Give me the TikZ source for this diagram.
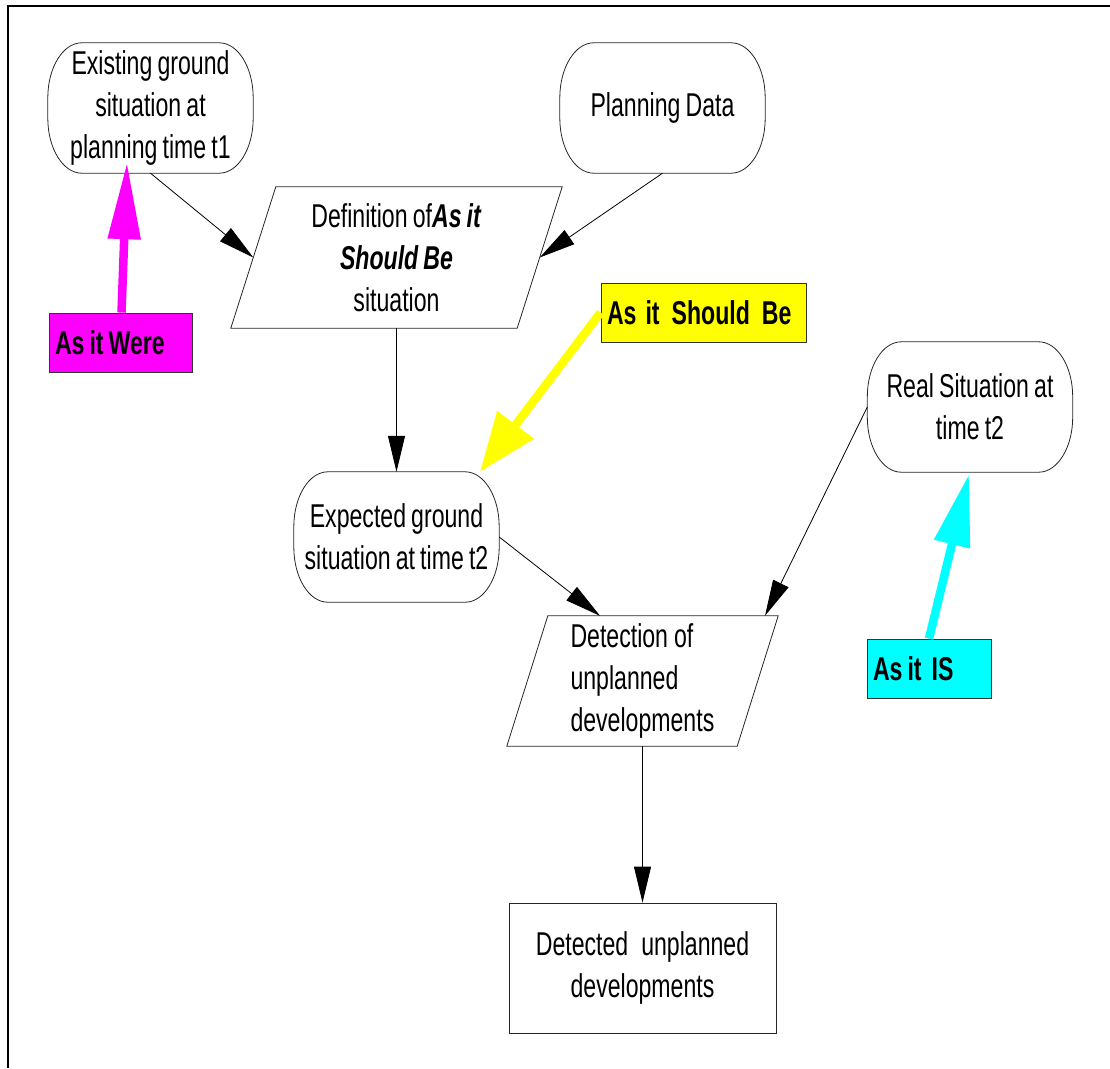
\documentclass[tikz,border=0pt]{standalone}
\usepackage{fontspec}
\setmainfont{Liberation Sans}[FakeStretch=0.70, WordSpace=0.8]
\usetikzlibrary{arrows.meta}
\definecolor{callmag}{RGB}{255,0,255}
\definecolor{callyel}{RGB}{255,255,0}
\definecolor{callcyan}{RGB}{0,255,255}
\newcommand\termpath[1]{%
  \draw[shapeline] ([xshift=34pt]#1.north west) -- ([xshift=-34pt]#1.north east)
    arc[start angle=90, end angle=0, x radius=34pt, y radius=55pt]
    -- ([yshift=55pt]#1.south east)
    arc[start angle=0, end angle=-90, x radius=34pt, y radius=55pt]
    -- ([xshift=34pt]#1.south west)
    arc[start angle=270, end angle=180, x radius=34pt, y radius=55pt]
    -- ([yshift=-55pt]#1.north west)
    arc[start angle=180, end angle=90, x radius=34pt, y radius=55pt] -- cycle;}
\newcommand\parapath[2]{%
  \draw[shapeline] ([xshift=#2]#1.north west) -- ([xshift=#2]#1.north east)
    -- ([xshift=-#2]#1.south east) -- ([xshift=-#2]#1.south west) -- cycle;}
\begin{document}
\begin{tikzpicture}[x=1pt,y=-1pt,
  font=\fontsize{33}{42}\selectfont,
  shapeline/.style={line width=0.8pt, draw=black!85},
  term/.style={minimum width=205pt, minimum height=130pt, inner sep=0pt, align=center},
  para/.style={inner sep=0pt},
  link/.style={line width=0.8pt, -{Triangle[length=36pt,width=17pt]}},
  callout/.style={draw=black!80, line width=0.8pt, minimum height=59pt, inner xsep=6pt,
    inner ysep=0pt, align=left, font=\fontsize{33}{42}\selectfont\bfseries},
  bigarrow/.style={line width=8.5pt}]
\useasboundingbox (0,0) rectangle (1110,1068);
\draw[line width=2.5pt] (8,1068) -- (8,6) -- (1110,6);

% terminal shapes
\node[term] (exist) at (150.5,108) {Existing ground\\situation at\\planning time t1};
\termpath{exist}
\node[term] (plan) at (662.5,108) {Planning Data};
\termpath{plan}
\node[term] (real) at (970,407) {Real Situation at\\time t2};
\termpath{real}
\node[term] (exp) at (396.5,537) {Expected ground\\situation at time t2};
\termpath{exp}

% parallelograms
\node[para, minimum width=286pt, minimum height=141pt, align=center] (def) at (396.5,257.5)
  {Definition of\textbf{\itshape As it}\\\textbf{\itshape Should Be}\\situation};
\parapath{def}{22.5pt}
\node[para, minimum width=230pt, minimum height=130pt, text width=144pt, align=left] (det) at (642.5,681)
  {Detection\hspace{6pt}of\\unplanned\\developments};
\parapath{det}{20.5pt}

% result box
\node[shapeline, draw, minimum width=267pt, minimum height=130pt, inner sep=0pt, align=center] (done) at (642.5,968)
  {Detected\hspace{13pt}unplanned\\developments};

% connectors
\draw[link] (exist.south) -- (def.west);
\draw[link] (plan.south) -- (def.east);
\draw[link] (def.south) -- (exp.north);
\draw[link] (exp.east) -- ([xshift=-42.5pt]det.north);
\draw[link] (real.west) -- ([xshift=122.5pt]det.north);
\draw[link] (det.south) -- (done.north);

% callouts
\node[callout, fill=callmag, minimum width=143pt, text width=131pt] (were) at (120.5,342.5)
  {As\hspace{5pt}it\hspace{5pt}Were};
\node[callout, fill=callyel, minimum width=205pt, text width=193pt] (should) at (703.5,312.5)
  {As\hspace{9pt}it\hspace{12pt}Should\hspace{12pt}Be};
\node[callout, fill=callcyan, minimum width=124pt, text width=112pt] (is) at (929,668.5)
  {As\hspace{5pt}it\hspace{10pt}IS};

\draw[bigarrow, callmag, -{Triangle[length=77pt,width=31pt]}] ([xshift=1pt]were.north) -- ([xshift=-23.5pt,yshift=11pt]exist.south);
\draw[bigarrow, callyel, -{Triangle[length=59pt,width=44pt]}] (should.west) -- ([xshift=83.5pt]exp.north);
\draw[bigarrow, callcyan, -{Triangle[length=72pt,width=35pt]}] (is.north) -- ([xshift=-1pt,yshift=-2pt]real.south);
\end{tikzpicture}
\end{document}
